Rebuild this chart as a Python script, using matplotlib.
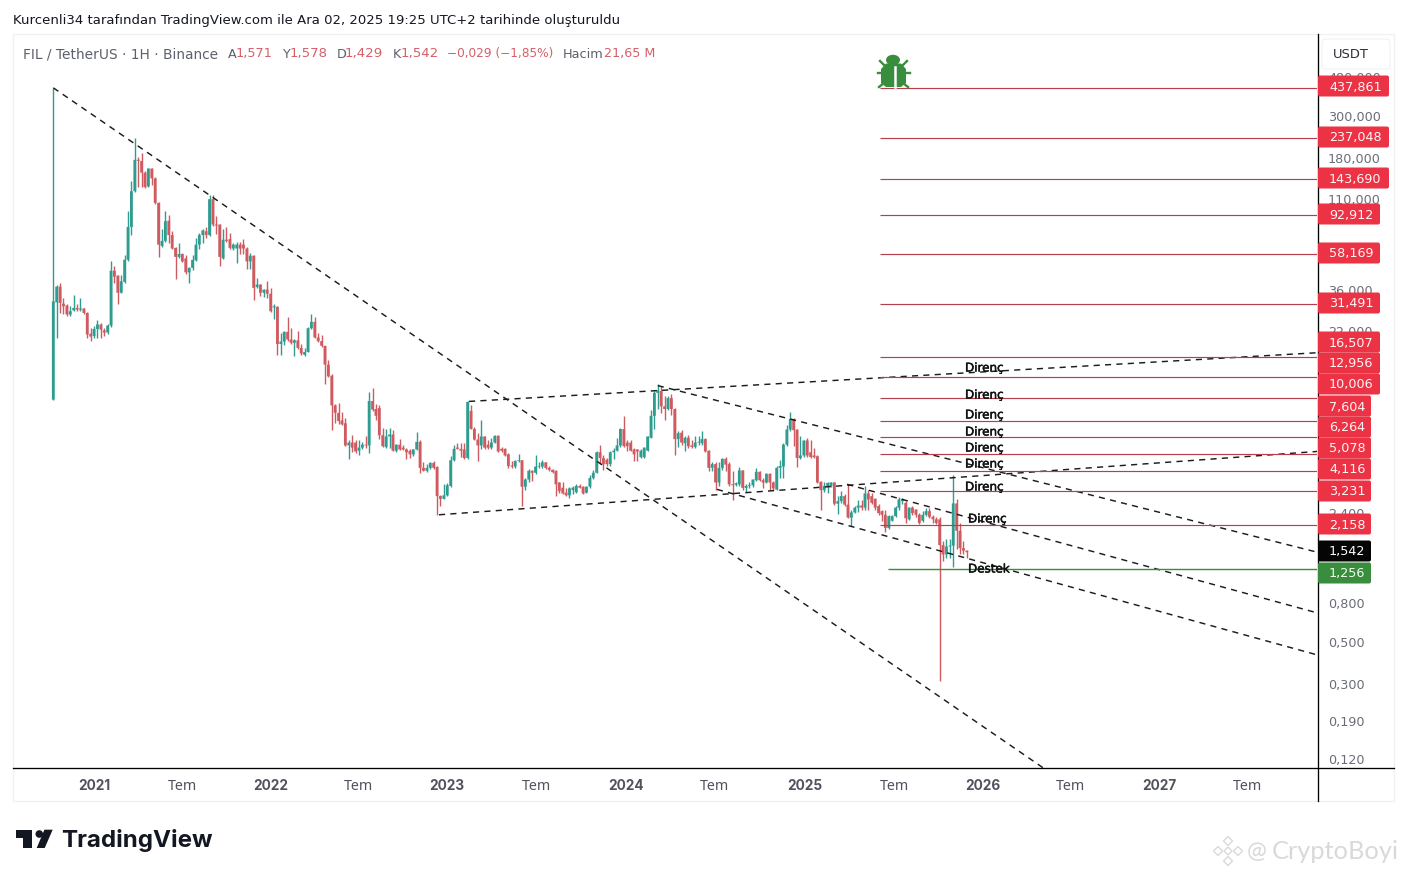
import matplotlib
matplotlib.use('Agg')
import matplotlib.pyplot as plt
import matplotlib.dates as mdates
import matplotlib.patheffects as pe
from matplotlib.lines import Line2D
from matplotlib.patches import FancyBboxPatch, Polygon, Ellipse, Circle, Rectangle
from matplotlib.ticker import NullLocator
from matplotlib.transforms import IdentityTransform
import numpy as np
import pandas as pd

# Weekly candles
opens = [
    9.87,32.2,39.0,31.7,31.0,27.8,29.2,30.1,29.5,29.9,
    28.3,22.0,21.4,23.3,24.6,22.9,22.3,24.3,47.3,44.6,
    36.2,41.3,54.1,80.6,124.5,182.4,180,156,132,164,
    145.5,108,64,68,87,73,62.5,56,58,55,
    46.4,49,53.7,65,73,76.5,73,113,83,83,
    55,69,69.5,62,62,65,65,62,53,56.8,
    38.8,40,36.2,37.6,35.8,30.3,30.5,19.4,20,22.5,
    20.5,19.7,20.3,18.5,17,17.6,23.5,25.4,21,20.1,
    19,15.1,13.2,9.2,8.4,7.65,7.4,5.65,5.85,5.85,
    5.3,5.5,5.7,5.65,9.7,8.8,8.9,6.4,5.55,6.3,
    6.45,5.3,5.7,5.5,5.38,5.3,5.07,5.38,5.9,4.3,
    4.15,4.3,4.57,4.35,3.05,2.95,3.08,3.45,4.72,5.5,
    5.42,5.38,4.85,8.6,6.9,6.07,5.65,6.3,5.7,5.5,
    5.85,6.35,5.42,5.42,5.07,4.42,4.37,4.68,4.72,3.42,
    3.73,4.15,4.05,4.37,4.37,4.6,4.3,4.2,4.15,3.6,
    3.38,3.18,3.08,3.28,3.2,3.45,3.42,3.18,3.42,3.8,
    4.05,5.2,4.85,4.75,4.5,5.2,5.3,5.65,6.9,5.85,
    5.85,5.38,5.38,4.9,4.9,5.3,6.2,8.1,10.7,10.95,
    9.1,8.8,10.05,8.8,6.1,6.6,5.8,6.2,5.65,5.55,
    5.85,5.8,6.1,5.3,4.3,4.5,3.6,4.3,4.8,4.5,
    3.52,3.5,3.52,4.17,3.37,3.45,3.48,3.7,4.1,3.7,
    3.6,4,3.6,3.3,4.3,4.37,5.7,6.86,7.8,6.85,
    4.85,5,6,5.2,5,4.95,3.63,3.28,3.45,3.45,
    3.6,2.78,2.87,3.05,2.75,2.35,2.5,2.65,2.72,2.65,
    3.15,3.05,2.95,2.7,2.54,2.43,2.07,2.26,2.39,2.65,
    2.87,2.81,2.3,2.65,2.59,2.43,2.26,2.43,2.54,2.37,
    2.3,2.3,1.68,1.5,1.65,1.67,2.79,2.0,1.62,1.571,
]
closes = [
    32.6,39.0,32.0,30.7,27.8,28.9,30.1,29.5,29.9,28.3,
    21.8,21.2,23.3,24.6,23.1,22.3,24.3,47.3,44.0,36.2,
    41.6,54.1,80.6,124.5,182.4,180,156,131,164,145.5,
    108,65,68,86.5,73,62,56,58,53,46.4,
    49,54,65,73,77.3,73,113,83,82,56,
    69,68,62.5,65,65,62,62,53,56.8,38.4,
    40,36.2,37.6,35.8,28.9,30.7,19.4,20,22.5,20.5,
    19.7,20.3,18.5,17.3,17.6,23.5,25.4,21,20.1,19,
    15.1,13.1,9.2,8.4,7.6,7.3,5.65,5.85,5.5,5.25,
    5.5,5.7,5.65,9.7,8.74,8.1,6.4,5.6,6.3,6.45,
    5.3,5.7,5.38,5.38,5.2,5.07,5.38,5.9,4.3,4.15,
    4.3,4.57,4.3,3.05,2.95,3.08,3.48,4.72,5.42,5.42,
    5.3,4.85,9.6,6.9,6.07,5.65,6.3,5.5,5.5,5.85,
    6.35,5.25,5.3,5,4.4,4.37,4.68,4.72,3.42,3.73,
    4.15,4.05,4.37,4.4,4.6,4.3,4.2,4.08,3.52,3.24,
    3.15,3.08,3.35,3.38,3.45,3.38,3.15,3.42,3.8,4.05,
    5.2,4.85,4.5,4.5,5.2,5.3,5.65,6.9,5.6,5.6,
    5.3,5.07,5.25,5.3,5.5,6.3,8.1,10.7,11.05,9.1,
    8.8,10.05,8.8,6.1,6.55,5.85,6.2,5.6,5.55,5.85,
    5.9,6.1,5.25,4.3,4.5,3.6,4.3,4.8,4.47,3.52,
    3.48,3.56,4.17,3.37,3.45,3.48,3.73,4.1,3.7,3.6,
    4,3.6,3.35,4.3,4.4,5.7,6.86,7.8,6.8,4.85,
    5,6,5,4.9,4.9,3.6,3.28,3.45,3.58,3.6,
    2.78,2.87,3.05,2.75,2.35,2.5,2.65,2.72,2.65,3.15,
    2.93,2.81,2.65,2.48,2.43,2.07,2.39,2.39,2.65,2.93,
    2.95,2.33,2.65,2.48,2.43,2.2,2.43,2.54,2.37,2.3,
    2.2,1.68,1.5,1.65,1.67,2.79,2.0,1.62,1.57,1.542,
]
highs = [
    437.861,40.0,41,34,31.7,30.7,35.3,31.7,34,30.2,
    28.6,23.5,24.3,26.1,25,23.5,24.7,53.2,49.9,45,
    45,57.2,97.7,140.4,236.5,189,198,159,165,165,
    148,109,79,98,93.5,76.5,63.5,66.5,59,57,
    49.5,57.5,70.5,75,78.5,80.5,119,119,91.8,84,
    79,81,75,66.5,67,67,69.5,63.5,58.5,57,
    43.3,40.5,37.9,41.6,38.4,31.7,30.7,22.3,22.7,26.8,
    23.5,20.6,22.7,19.5,18.5,23.9,28,27,22.3,21.6,
    19,16.05,13.4,9.3,9.5,8.45,7.9,6,6.45,6,
    6,5.9,6.3,10.8,11.4,9.3,9.2,7,6.86,7,
    6.8,5.75,6.1,5.7,5.5,5.38,5.42,6.65,6,4.6,
    4.5,4.63,4.65,4.4,3.08,3.52,3.56,4.95,5.7,5.8,
    5.8,5.85,9.65,9.2,7.1,6.6,7.7,6.35,6.07,6.2,
    6.45,6.4,5.55,5.5,5.15,4.68,4.72,5.07,4.75,3.8,
    4.25,4.2,5,4.6,4.72,4.63,4.4,4.25,4.18,3.63,
    3.6,3.38,3.42,3.45,3.52,3.52,3.45,3.45,3.95,4.2,
    5.3,5.7,5,4.85,5.3,5.5,6.2,7,8.05,6.07,
    6.07,5.5,5.42,5.38,5.55,6.35,8.65,10.95,11.87,11.6,
    10.3,10.3,10.5,8.9,6.7,6.8,6.3,6.45,6.07,6.35,
    6.35,6.75,6.2,5.33,4.63,4.6,4.6,4.85,4.9,4.6,
    4.15,3.6,4.37,4.2,3.52,3.6,3.77,4.3,4.15,3.8,
    4.05,4.05,3.65,4.42,4.75,5.85,7.25,8.45,7.9,6.9,
    6.3,6.05,6.2,6,5.5,5,3.67,3.6,3.63,3.63,
    3.63,3.05,3.24,3.12,3.52,2.59,2.72,2.9,2.9,3.45,
    3.3,3.18,2.98,2.76,2.59,2.59,2.43,2.43,2.7,3.03,
    2.98,2.87,2.68,2.7,2.6,2.48,2.54,2.65,2.65,2.43,
    2.37,2.37,1.77,1.8,1.8,3.95,2.93,2.2,1.77,1.578,
]
lows = [
    9.87,21,28.3,27.8,27.4,27.4,28.9,28.9,28.9,27.8,
    21,20.1,21,21,21,21.4,22,23.9,41,31.7,
    35.9,41,53.2,73.3,123,131,131,130,131,134.5,
    107,56,63,67,66.5,61.5,42.8,55,52.5,45.6,
    40.9,47.9,53,62,66.5,70.5,72,82,74,50,
    54.8,67,61.5,61,52,58,58,48.3,48.3,33,
    38.4,35,34.3,34,28.5,26.4,17,17,19.2,20.1,
    19.5,16.8,18.3,17,16.7,17.5,23.2,20.8,19.9,18.8,
    11.9,13,6.8,7.4,7.3,7.2,5.6,4.8,5.2,5.15,
    5,5.38,5.5,5.15,8.6,7.74,6.1,5.55,5.5,5.5,
    5.25,5.2,5.35,5.35,4.8,4.85,4.95,5.33,4.05,4.13,
    4.1,4.25,4.25,2.43,2.7,2.93,3.05,3.42,4.68,5.38,
    4.9,4.8,4.8,6.86,6,4.68,5.38,5.38,5.42,5.42,
    5.8,5.2,5.2,4.95,4.3,4.3,4.3,4.63,2.72,3.28,
    3.6,3.67,4,4.3,4.3,4.25,4.13,4.05,3.05,3.15,
    3.12,3.05,2.98,3.12,3.15,3.35,3.12,3.15,3.38,3.77,
    4.03,4.5,4.2,4.42,4.42,4.8,5.25,5.55,5.55,5.3,
    5.25,4.68,4.68,4.85,4.87,5.27,6.15,6.9,8.8,8.35,
    7.74,8.74,8.2,5,5.55,5.7,5.3,5.5,5.5,5.5,
    5.7,5.7,5.2,4.15,4.15,3.28,3.45,4.2,4.15,3.45,
    2.9,3.45,3.45,3.3,3.2,3.35,3.42,3.67,3.67,3.35,
    3.58,3.3,3.28,3.28,3.8,3.8,5.6,6.7,5.6,4.37,
    4.8,4.9,4.9,4.85,4.85,3.58,2.59,3.2,3.15,3.42,
    2.75,2.45,2.82,2.72,2.33,2.13,2.47,2.5,2.59,2.59,
    2.59,2.76,2.59,2.43,2.26,1.97,2.05,2.24,2.37,2.59,
    2.76,2.2,2.28,2.43,2.37,2.16,2.23,2.39,2.33,2.2,
    2.16,0.32,1.38,1.43,1.43,1.29,1.6,1.5,1.5,1.429,
]

# Horizontal levels drawn on the chart
resistance = [437.861, 237.048, 143.690, 92.912, 58.169, 31.491, 16.507, 12.956,
              10.006, 7.604, 6.264, 5.078, 4.116, 3.231, 2.158]
resistance_labels = ['437,861', '237,048', '143,690', '92,912', '58,169', '31,491', '16,507', '12,956',
                     '10,006', '7,604', '6,264', '5,078', '4,116', '3,231', '2,158']
support = 1.256

# Dashed trend lines: (start date, start price, end date, end price)
trend_lines = [
    ('2020-10-12', 437.861, '2026-05-14', 0.112),
    ('2023-02-16', 9.65, '2027-11-30', 17.45),
    ('2024-03-11', 11.7, '2027-11-30', 1.542),
    ('2022-12-16', 2.43, '2027-11-30', 5.25),
    ('2024-07-11', 3.31, '2027-11-30', 0.442),
    ('2025-04-05', 3.52, '2027-11-30', 0.737),
]

y_ticks = [480, 300, 180, 110, 36, 22, 2.4, 0.8, 0.5, 0.3, 0.19, 0.12]
y_tick_labels = ['480,000', '300,000', '180,000', '110,000', '36,000', '22,000',
                 '2,400', '0,800', '0,500', '0,300', '0,190', '0,120']
x_ticks = ['2021-01-04', '2021-07-05', '2022-01-03', '2022-07-04', '2023-01-02', '2023-07-06',
           '2024-01-05', '2024-07-05', '2025-01-08', '2025-07-12', '2026-01-10', '2026-07-10',
           '2027-01-08', '2027-07-10']
x_tick_labels = ['2021', 'Tem', '2022', 'Tem', '2023', 'Tem', '2024', 'Tem', '2025', 'Tem', '2026', 'Tem',
                 '2027', 'Tem']

W, H = 1407, 878
GREEN = '#2f9c90'
RED = '#cf5a5f'
TAG_RED = '#ec3345'
LEVEL_RED = '#b4404e'
LEVEL_GREEN = '#388e3c'
GRAY = '#6a6d78'

dates = mdates.date2num(pd.date_range('2020-10-12', periods=len(opens), freq='7D'))
o, h, l, c = map(np.array, (opens, highs, lows, closes))
colors = np.where(c >= o, GREEN, RED)

fig = plt.figure(figsize=(W / 100, H / 100), dpi=100, facecolor='white')
ax = fig.add_axes([13 / W, 1 - 768.8 / H, 1304 / W, 733 / H])
ax.set_yscale('log')

ax.vlines(dates, l, h, colors=colors, linewidth=1.0, zorder=2)
bars = ax.bar(dates, np.abs(c - o), bottom=np.minimum(o, c), width=5.8, color=colors, linewidth=0, zorder=3)
for b in bars:
    b.set_snap(False)

for d0, p0, d1, p1 in trend_lines:
    ax.plot(mdates.date2num(pd.to_datetime([d0, d1])), [p0, p1], color='#1c1c1c', linewidth=1.05,
            linestyle=(0, (4.2, 3.6)), zorder=4)

start = mdates.date2num(pd.Timestamp('2025-06-12'))
right = dates[0] + 2604.8
ax.hlines(resistance, start, right, color=LEVEL_RED, linewidth=0.85, zorder=4)
ax.hlines(support, start + 16, right, color=LEVEL_GREEN, linewidth=1.0, zorder=4)

ax.set_xlim(dates[0] - 83.07, right)
ax.set_ylim(0.1119, 834.6)
ax.yaxis.set_minor_locator(NullLocator())
ax.set_yticks([])
# price labels sit a little above their level, as on the reference's scale
for p, s in zip(y_ticks, y_tick_labels):
    ax.annotate(s, xy=(1, p), xycoords=('axes fraction', 'data'), xytext=(7.9, 1.7),
                textcoords='offset points', va='center', fontsize=9.2, color=GRAY,
                family='DejaVu Sans', annotation_clip=False)
ax.set_xticks(mdates.date2num(pd.to_datetime(x_ticks)))
ax.set_xticklabels(x_tick_labels, family='Noto Sans', fontsize=10.3, color='#50535e')
for lab, s in zip(ax.get_xticklabels(), x_tick_labels):
    if s != 'Tem':
        lab.set_family('Inter')
        lab.set_fontweight('bold')
        lab.set_fontsize(9.8)
ax.tick_params(axis='both', which='both', length=0)
ax.tick_params(axis='x', pad=7.5)
for sp in ax.spines.values():
    sp.set_visible(False)


def px_text(x, y, s, **kw):
    kw.setdefault('va', 'center')
    kw.setdefault('family', 'DejaVu Sans')
    return fig.text(x / W, 1 - y / H, s, **kw)


def px_line(xs, ys, color='black', lw=1.0, zorder=2):
    fig.add_artist(Line2D(xs, [H - y for y in ys], color=color, linewidth=lw,
                          transform=IdentityTransform(), zorder=zorder))


def px_poly(pts, **kw):
    kw.setdefault('zorder', 2)
    fig.add_artist(Polygon([(x, H - y) for x, y in pts], closed=True, linewidth=kw.pop('lw', 0),
                           transform=IdentityTransform(), **kw))


def px_box(x0, y0, x1, y1, color, edge='none', round_px=2, zorder=5):
    fig.add_artist(FancyBboxPatch((x0, H - y1), x1 - x0, y1 - y0,
                                  boxstyle=f'round,pad=0,rounding_size={round_px}',
                                  facecolor=color, edgecolor=edge, linewidth=0.8,
                                  transform=IdentityTransform(), zorder=zorder))


# Frame of the widget
fig.add_artist(Rectangle((13, H - 802), 1381, 767, fill=False, edgecolor='#eef0f4', linewidth=1.0,
                         transform=IdentityTransform(), zorder=1))
px_line([13, 1394], [768.5, 768.5], lw=0.95)
px_line([1317.5, 1317.5], [35, 802], lw=0.95)

# Heading above the widget and the OHLC line
px_text(13, 20.5, 'Kurcenli34 tarafından TradingView.com ile Ara 02, 2025 19:25 UTC+2 tarihinde oluşturuldu',
        fontsize=9.54, color='#131722')
head_gray = '#5d606b'
head_red = '#d4606a'
for x, s, col, size in [(23, 'FIL / TetherUS · 1H · Binance', head_gray, 9.95), (228, 'A', head_gray, 9.2),
                        (236, '1,571', head_red, 9.3), (282, 'Y', head_gray, 9.2), (290, '1,578', head_red, 9.5),
                        (337, 'D', head_gray, 9.2), (345, '1,429', head_red, 9.6), (393, 'K', head_gray, 9.2),
                        (401, '1,542', head_red, 9.6), (447, '−0,029 (−1,85%)', head_red, 8.75),
                        (563, 'Hacim', head_gray, 9.3), (604, '21,65 M', head_red, 9.2)]:
    px_text(x, 54, s, fontsize=size, color=col)

# Price tags on the axis
tag_ys = [87, 138, 179, 215, 254, 304, 343, 364, 385, 407, 428, 449, 470, 492, 525]
for s, y in zip(resistance_labels, tag_ys):
    right_edge = {7: 1389, 6: 1380, 5: 1371}[len(s)]
    px_box(1318, y - 10.5, right_edge, y + 10.5, TAG_RED)
    px_text(1329, y, s, fontsize=9.2, color='#fff4f4', zorder=6)
px_box(1318, 541.5, 1371, 562.5, '#050505')
px_text(1329, 552, '1,542', fontsize=9.2, color='white', zorder=6)
px_box(1318, 563.5, 1371, 584.5, LEVEL_GREEN)
px_text(1329, 574, '1,256', fontsize=9.2, color='#f2faf2', zorder=6)

# Currency button
px_box(1322, 40, 1390, 70, 'white', edge='#f0f1f4', round_px=4, zorder=5)
px_text(1333, 55, 'USDT', fontsize=9.4, color='#2a2e39', zorder=6)

# Notes next to the levels
for x, y, s in [(965, 369, 'Direnç'), (965, 396, 'Direnç'), (965, 416, 'Direnç'), (965, 433, 'Direnç'),
                (965, 449, 'Direnç'), (965, 465, 'Direnç'), (965, 488, 'Direnç'), (968, 520, 'Direnç'),
                (968, 570, 'Destek')]:
    t = px_text(x, y, s, fontsize=8.6, color='#111111')
    t.set_path_effects([pe.withStroke(linewidth=0.35, foreground='#111111')])

# Bug icon
bug = '#388e3c'
px_poly([(886, 64.5), (901, 64.5), (906, 70), (906, 84), (901, 88), (886, 88), (881, 84), (881, 70)], facecolor=bug)
fig.add_artist(Ellipse((893, H - 61), 14, 10.5, facecolor=bug, edgecolor='none',
                       transform=IdentityTransform(), zorder=2))
px_line([895, 895], [68, 88], color='white', lw=1.8)
for xs, ys in [([878, 883], [74, 74]), ([905, 910], [74, 74]), ([880, 885], [62, 67]), ([907, 902], [62, 67]),
               ([879, 884], [88, 84]), ([908, 903], [88, 84])]:
    px_line(xs, ys, color=bug, lw=1.7)

# TradingView logo
ink = '#131722'
px_poly([(15.7, 830.7), (32.3, 830.7), (32.3, 849), (23.3, 849), (23.3, 839.3), (15.7, 839.3)], facecolor=ink)
fig.add_artist(Circle((39.3, H - 835), 3.8, facecolor=ink, edgecolor='none', transform=IdentityTransform(), zorder=2))
px_poly([(36.7, 849), (44.7, 849), (52.7, 830.7), (44.4, 830.7)], facecolor=ink)
px_text(61, 841, 'TradingView', fontsize=17.4, fontweight='bold', family='Inter', color=ink)

# Watermark
mark = '#d9d9d9'
for cx, cy, r in [(1228, 842, 4.5), (1218, 852, 4.5), (1238, 852, 4.5), (1228, 862, 4.5), (1228, 852, 4)]:
    px_poly([(cx, cy - r), (cx + r, cy), (cx, cy + r), (cx - r, cy)], facecolor='white', edgecolor=mark, lw=1.0)
px_text(1247, 852, '@', fontsize=17, color=mark, family='Lato')
px_text(1272, 852, 'CryptoBoyi', fontsize=18.3, color=mark, family='Lato')

fig.savefig('out.png', dpi=100)
